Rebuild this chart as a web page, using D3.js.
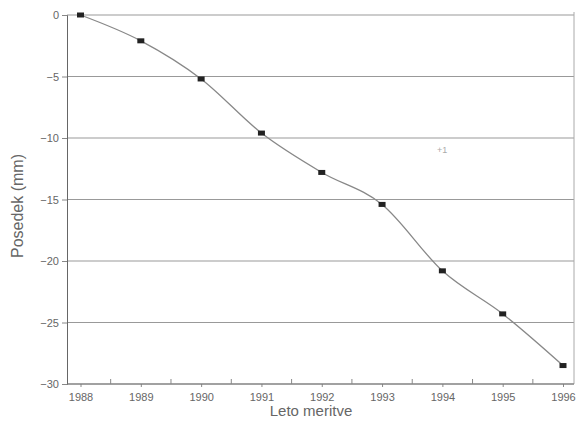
<!DOCTYPE html>
<html>
<head>
<meta charset="utf-8">
<script src="https://cdn.jsdelivr.net/npm/d3@7"></script>
<style>
  body { margin: 0; background: #fff; }
  text { font-family: "Liberation Sans", Arial, sans-serif; fill: #666; }
</style>
</head>
<body>
<svg id="chart" width="577" height="423"></svg>
<script>
// data
var years = [1988, 1989, 1990, 1991, 1992, 1993, 1994, 1995, 1996];
var posedek = [0, -2.1, -5.2, -9.6, -12.8, -15.4, -20.8, -24.3, -28.5];
var yTicks = [0, -5, -10, -15, -20, -25, -30];
var halfYears = [1988.5, 1989.5, 1990.5, 1991.5, 1992.5, 1993.5, 1994.5, 1995.5];

var svg = d3.select('#chart');
var plotLeft = 67, plotRight = 574, plotTop = 15, plotBottom = 384;

var x = d3.scaleLinear().domain([1988, 1996]).range([80.5, 563]);
var y = d3.scaleLinear().domain([0, -30]).range([plotTop, plotBottom]);

// horizontal grid lines
svg.append('g').selectAll('line')
  .data(yTicks)
  .enter().append('line')
  .attr('x1', plotLeft).attr('x2', plotRight)
  .attr('y1', function(d){ return y(d); })
  .attr('y2', function(d){ return y(d); })
  .attr('stroke', '#999')
  .attr('stroke-width', 1);

// right border
svg.append('line')
  .attr('x1', plotRight).attr('x2', plotRight)
  .attr('y1', plotTop - 3).attr('y2', plotBottom)
  .attr('stroke', '#aaa').attr('stroke-width', 1);

// y axis
var yAxis = d3.axisLeft(y).tickValues(yTicks).tickSize(5).tickPadding(3);
var gy = svg.append('g').attr('transform', 'translate(' + plotLeft + ',0)').call(yAxis);
gy.select('.domain').attr('stroke', '#666');
gy.selectAll('.tick line').attr('stroke', '#888');
gy.selectAll('.tick text').attr('font-size', 11).style('fill', '#666')
  .attr('font-family', '"Liberation Sans", Arial, sans-serif');

// x axis (years below, half-year ticks pointing up)
var xAxis = d3.axisBottom(x).tickValues(years).tickFormat(d3.format('d')).tickSize(3).tickPadding(6);
var gx = svg.append('g').attr('transform', 'translate(0,' + plotBottom + ')').call(xAxis);
gx.select('.domain').remove();
gx.selectAll('.tick line').attr('stroke', '#888');
gx.selectAll('.tick text').attr('font-size', 11).style('fill', '#666')
  .attr('font-family', '"Liberation Sans", Arial, sans-serif');
svg.append('line')
  .attr('x1', plotLeft).attr('x2', plotRight)
  .attr('y1', plotBottom).attr('y2', plotBottom)
  .attr('stroke', '#777');
svg.append('g').selectAll('line')
  .data(halfYears)
  .enter().append('line')
  .attr('x1', function(d){ return x(d); })
  .attr('x2', function(d){ return x(d); })
  .attr('y1', plotBottom).attr('y2', plotBottom - 5)
  .attr('stroke', '#888');

// the measurement line
var pts = years.map(function(yr, i){ return [yr, posedek[i]]; });
var line = d3.line()
  .x(function(d){ return x(d[0]); })
  .y(function(d){ return y(d[1]); })
  .curve(d3.curveMonotoneX);
svg.append('path')
  .datum(pts)
  .attr('d', line)
  .attr('fill', 'none')
  .attr('stroke', '#888')
  .attr('stroke-width', 1.3);

svg.append('g').selectAll('rect')
  .data(pts)
  .enter().append('rect')
  .attr('x', function(d){ return x(d[0]) - 3.5; })
  .attr('y', function(d){ return y(d[1]) - 2.5; })
  .attr('width', 7).attr('height', 5)
  .attr('fill', '#222');

// axis titles
svg.append('text')
  .attr('transform', 'translate(23,206) rotate(-90)')
  .attr('text-anchor', 'middle')
  .attr('font-size', 16)
  .text('Posedek (mm)');
svg.append('text')
  .attr('x', 311).attr('y', 416)
  .attr('text-anchor', 'middle')
  .attr('font-size', 15)
  .text('Leto meritve');

// faint mark from the scan
svg.append('text')
  .attr('x', 437).attr('y', 153)
  .attr('font-size', 9)
  .style('fill', '#aaa')
  .text('+1');
</script>
</body>
</html>
